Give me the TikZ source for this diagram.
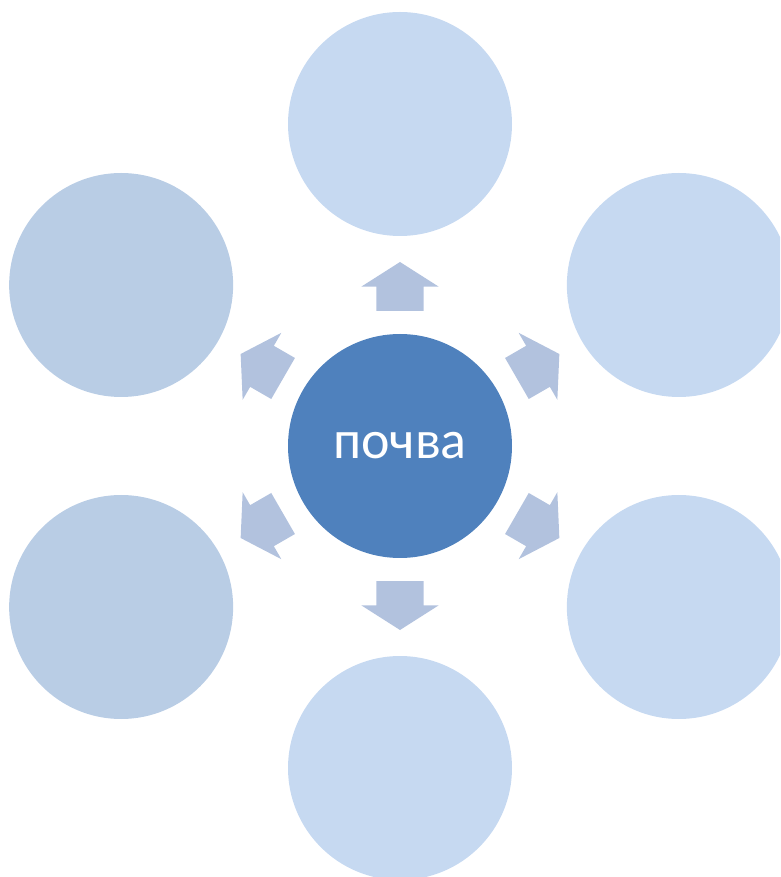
\documentclass[tikz,border=0pt]{standalone}
\usepackage{fontspec}
\newfontfamily\labelfont{Carlito}
\usetikzlibrary{shapes.arrows, positioning}
\definecolor{soilblue}{HTML}{4F81BD}
\definecolor{leafblue}{HTML}{C6D9F1}
\definecolor{leafgrey}{HTML}{B9CDE5}
\definecolor{arrowblue}{HTML}{B2C2DE}

\begin{document}
\begin{tikzpicture}[x=1pt,y=1pt]
	\tikzset{every node/.style={inner sep=0pt, outer sep=0pt},
		leaf/.style={circle, minimum size=224pt, fill=leafblue},
		leafdark/.style={leaf, fill=leafgrey},
		blockarrow/.style={single arrow, anchor=tail, fill=arrowblue, minimum height=49pt, inner xsep=0pt, inner ysep=23.5pt,
			single arrow head extend=15pt, single arrow tip angle=115, single arrow head indent=0pt}}
	\clip (-400,-431) rectangle (380,446);
	\node[circle, minimum size=224pt, fill=soilblue, text=white, font=\labelfont\fontsize{54}{60}\selectfont] (soil) at (0,0) {почва};
	\node[leaf] (top) at (90:322) {};
	\node[leaf] (upright) at (30:322) {};
	\node[leaf] (downright) at (-30:322) {};
	\node[leaf] (bottom) at (-90:322) {};
	\node[leafdark] (downleft) at (-150:322) {};
	\node[leafdark] (upleft) at (150:322) {};
	\node[blockarrow, rotate=90] (a1) at (90:135) {};
	\node[blockarrow, rotate=30] (a2) at (30:135) {};
	\node[blockarrow, rotate=-30] (a3) at (-30:135) {};
	\node[blockarrow, rotate=-90] (a4) at (-90:135) {};
	\node[blockarrow, rotate=-150] (a5) at (-150:135) {};
	\node[blockarrow, rotate=150] (a6) at (150:135) {};
\end{tikzpicture}
\end{document}
